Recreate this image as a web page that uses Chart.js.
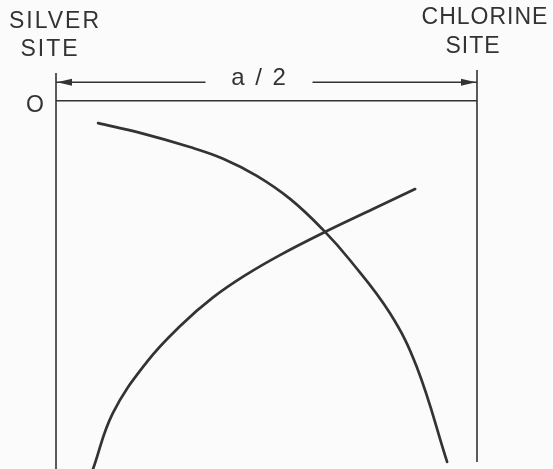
<!DOCTYPE html>
<html>
<head>
<meta charset="utf-8">
<script src="https://cdn.jsdelivr.net/npm/chart.js@4/dist/chart.umd.min.js"></script>
<style>
  html, body { margin: 0; padding: 0; background: #fcfbfb; }
  #grafico { display: block; }
</style>
</head>
<body>
<canvas id="grafico" width="553" height="469"></canvas>
<script>
// Posições dos sítios (fração de a/2) e nomes
const sitePositions = [0, 1];
const siteNames = [['SILVER', 'SITE'], ['CHLORINE', 'SITE']];
const zeroLabel = 'O';
const spanLabel = 'a / 2';

// Curva descendente (parte do sítio da prata)
const curveAX = [0.100, 0.200, 0.318, 0.397, 0.477, 0.556, 0.634, 0.698, 0.793, 0.857, 0.929];
const curveAY = [-0.073, -0.105, -0.151, -0.189, -0.245, -0.320, -0.420, -0.519, -0.692, -0.868, -1.177];

// Curva ascendente
const curveBX = [0.088, 0.135, 0.216, 0.295, 0.373, 0.454, 0.532, 0.634, 0.753, 0.853];
const curveBY = [-1.200, -1.018, -0.851, -0.734, -0.641, -0.565, -0.503, -0.431, -0.353, -0.288];

const COR = '#333333';
const FONTE = '"Liberation Sans", Arial, sans-serif';

const pontos = (xs, ys) => xs.map((v, i) => ({ x: v, y: ys[i] }));

// Moldura: linhas dos sítios, linha do zero, seta a/2 e textos
const molduraPlugin = {
    id: 'moldura',
    afterDatasetsDraw(chart) {
        const ctx = chart.ctx;
        const { x, y } = chart.scales;
        const xs = sitePositions.map(p => x.getPixelForValue(p));
        const y0 = y.getPixelForValue(0);
        const yArrow = y.getPixelForValue(0.06);

        ctx.save();
        ctx.strokeStyle = COR;
        ctx.fillStyle = COR;
        ctx.lineWidth = 1.6;

        // linhas verticais dos sítios
        ctx.beginPath();
        ctx.moveTo(xs[0], y.getPixelForValue(0.09));
        ctx.lineTo(xs[0], y.getPixelForValue(-1.2));
        ctx.moveTo(xs[1], y.getPixelForValue(0.1));
        ctx.lineTo(xs[1], y.getPixelForValue(-1.177));
        // linha do zero
        ctx.moveTo(xs[0], y0);
        ctx.lineTo(xs[1], y0);
        ctx.stroke();

        // seta a/2 com intervalo para o texto
        const meio = (xs[0] + xs[1]) / 2;
        ctx.lineWidth = 1.4;
        ctx.beginPath();
        ctx.moveTo(xs[0], yArrow);
        ctx.lineTo(meio - 61, yArrow);
        ctx.moveTo(meio + 46, yArrow);
        ctx.lineTo(xs[1], yArrow);
        ctx.stroke();

        const ponta = (px, dir) => {
            ctx.beginPath();
            ctx.moveTo(px, yArrow);
            ctx.lineTo(px + dir * 15, yArrow - 3.5);
            ctx.lineTo(px + dir * 15, yArrow + 3.5);
            ctx.closePath();
            ctx.fill();
        };
        ponta(xs[0] + 1, 1);
        ponta(xs[1] - 1, -1);

        ctx.textAlign = 'center';
        ctx.textBaseline = 'middle';
        ctx.font = '24px ' + FONTE;
        ctx.letterSpacing = '2px';
        ctx.fillText(spanLabel, meio - 7, yArrow - 4);

        // rótulo do zero
        ctx.font = '23px ' + FONTE;
        ctx.letterSpacing = '0px';
        ctx.fillText(zeroLabel, xs[0] - 21, y0 + 5);

        // nomes dos sítios
        ctx.letterSpacing = '2px';
        ctx.fillText(siteNames[0][0], xs[0] - 1, 22);
        ctx.fillText(siteNames[0][1], xs[0] - 6, 50);
        ctx.letterSpacing = '1px';
        ctx.fillText(siteNames[1][0], xs[1] + 8, 18);
        ctx.fillText(siteNames[1][1], xs[1] - 4, 47);
        ctx.restore();
    }
};

const estiloCurva = {
    borderColor: COR,
    borderWidth: 2.7,
    pointRadius: 0,
    tension: 0.4,
    borderCapStyle: 'round'
};

new Chart(document.getElementById('grafico'), {
    type: 'line',
    data: {
        datasets: [
            { data: pontos(curveAX, curveAY), ...estiloCurva },
            { data: pontos(curveBX, curveBY), ...estiloCurva }
        ]
    },
    options: {
        responsive: false,
        animation: false,
        layout: { padding: { left: 56, right: 76, top: 70, bottom: 0 } },
        scales: {
            x: { type: 'linear', min: 0, max: 1, display: false },
            y: { type: 'linear', min: -1.2, max: 0.1, display: false }
        },
        plugins: {
            legend: { display: false },
            tooltip: { enabled: false }
        }
    },
    plugins: [molduraPlugin]
});
</script>
</body>
</html>
